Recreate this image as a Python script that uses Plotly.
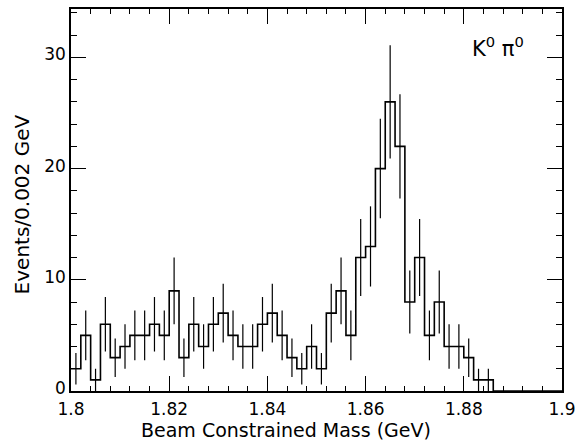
import numpy as np
import plotly.graph_objects as go

# Beam-constrained mass histogram, 2 MeV bins from 1.800 to 1.900 GeV
bin_low = 1.800
bin_width = 0.002
counts = [2, 5, 1, 6, 3, 4, 5, 5, 6, 5,
          9, 3, 6, 4, 6, 7, 5, 4, 4, 6,
          7, 5, 3, 2, 4, 2, 7, 9, 5, 12,
          13, 20, 26, 22, 8, 12, 5, 8, 4, 4,
          3, 1, 1, 0, 0, 0, 0, 0, 0, 0]
x_ticks = [1.80, 1.82, 1.84, 1.86, 1.88, 1.90]
x_tick_text = ["1.8", "1.82", "1.84", "1.86", "1.88", "1.9"]
y_ticks = [0, 10, 20, 30]
y_tick_text = ["0", "10", "20", "30"]

counts = np.array(counts, dtype=float)
n_bins = len(counts)
edges = bin_low + bin_width * np.arange(n_bins + 1)
centers = 0.5 * (edges[:-1] + edges[1:])
errors = np.sqrt(counts)

x_range = [1.8, 1.9]
y_range = [0, 34.35]

fig = go.Figure()

# stepped histogram outline
fig.add_trace(go.Scatter(
    x=edges, y=np.append(counts, counts[-1]),
    mode="lines", line=dict(color="black", width=1.6, shape="hv"),
    hoverinfo="skip", showlegend=False,
))

# statistical error bars at bin centres
mask = counts > 0
fig.add_trace(go.Scatter(
    x=centers[mask], y=counts[mask],
    mode="markers", marker=dict(size=0.1, color="black", opacity=0),
    error_y=dict(type="data", array=errors[mask], visible=True,
                 color="black", thickness=1.2, width=0),
    hoverinfo="skip", showlegend=False,
))

# empty trace that carries the top/right tick frame
fig.add_trace(go.Scatter(x=[None], y=[None], xaxis="x2", yaxis="y2",
                         mode="lines", showlegend=False, hoverinfo="skip"))

font_family = "DejaVu Sans, Verdana, sans-serif"

fig.add_annotation(
    x=0.869, y=0.90, xref="paper", yref="paper",
    xanchor="center", yanchor="middle",
    text="K<sup>0</sup> π<sup>0</sup>", showarrow=False,
    font=dict(family=font_family, size=21, color="black"),
)
fig.add_annotation(
    x=0.4376, y=-0.102, xref="paper", yref="paper",
    xanchor="center", yanchor="middle",
    text="Beam Constrained Mass (GeV)", showarrow=False,
    font=dict(family=font_family, size=19, color="black"),
)
fig.add_annotation(
    x=-0.099, y=0.4895, xref="paper", yref="paper", textangle=-90,
    xanchor="center", yanchor="middle",
    text="Events/0.002 GeV", showarrow=False,
    font=dict(family=font_family, size=20, color="black"),
)

tick_style = dict(ticks="inside", ticklen=15, tickwidth=1.3, tickcolor="black",
                  showline=True, linecolor="black", linewidth=1.6,
                  showgrid=False, zeroline=False)

fig.update_layout(
    width=584, height=443,
    margin=dict(l=71, r=8, t=9, b=52),
    paper_bgcolor="white", plot_bgcolor="white",
    font=dict(family=font_family, size=17, color="black"),
    xaxis=dict(
        range=x_range, tickvals=x_ticks, ticktext=x_tick_text,
        minor=dict(dtick=0.004, tick0=1.8, ticks="inside", ticklen=5,
                   tickwidth=1.2, tickcolor="black"),
        ticklabeloverflow="allow", tickfont=dict(size=17),
        ticklabelstandoff=2,
        **tick_style,
    ),
    yaxis=dict(
        range=y_range, tickvals=y_ticks, ticktext=y_tick_text,
        minor=dict(dtick=2, tick0=0, ticks="inside", ticklen=6,
                   tickwidth=1.2, tickcolor="black"),
        ticklabeloverflow="allow", tickfont=dict(size=17),
        ticklabelshift=-3,
        **tick_style,
    ),
    xaxis2=dict(
        overlaying="x", side="top", range=x_range, tickvals=x_ticks,
        showticklabels=False,
        minor=dict(dtick=0.004, tick0=1.8, ticks="inside", ticklen=5,
                   tickwidth=1.2, tickcolor="black"),
        **tick_style,
    ),
    yaxis2=dict(
        overlaying="y", side="right", range=y_range, tickvals=y_ticks,
        showticklabels=False,
        minor=dict(dtick=2, tick0=0, ticks="inside", ticklen=6,
                   tickwidth=1.2, tickcolor="black"),
        **tick_style,
    ),
)

fig.write_html("out.html")
